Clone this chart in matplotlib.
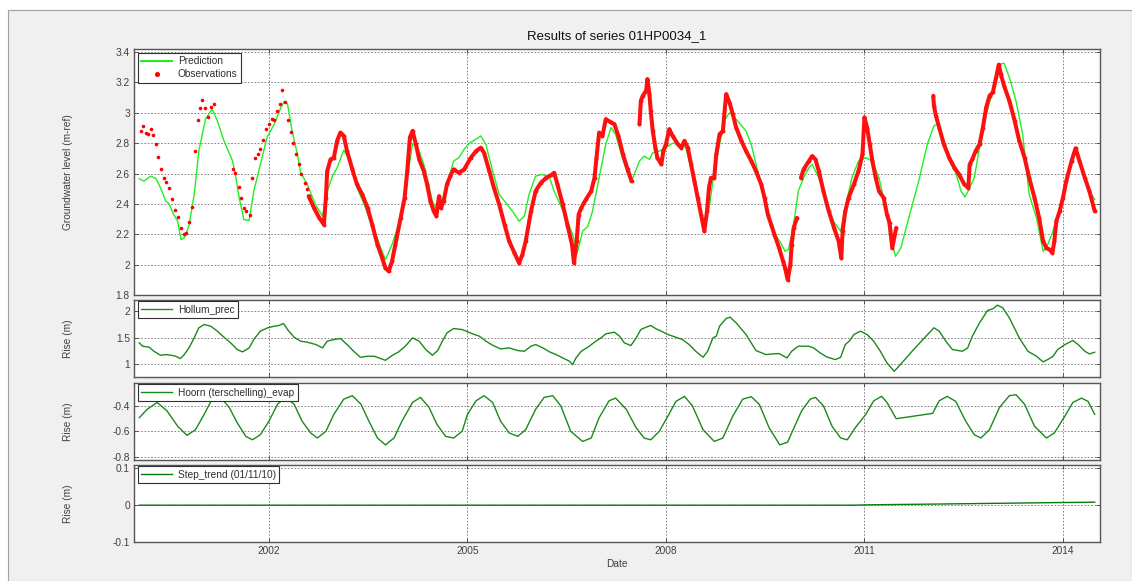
import numpy as np
import matplotlib
matplotlib.use("Agg")
import matplotlib.pyplot as plt
from matplotlib.patches import Rectangle
from matplotlib.lines import Line2D

plt.rcParams['font.family'] = ['Liberation Sans', 'DejaVu Sans']

# prediction (decimal year, m-ref)
pred_year = [2000.04, 2000.11, 2000.21, 2000.29, 2000.36, 2000.44, 2000.49, 2000.56, 2000.62, 2000.67,
             2000.72, 2000.79, 2000.87, 2000.94, 2001.04, 2001.14, 2001.22, 2001.32, 2001.45, 2001.50,
             2001.55, 2001.62, 2001.70, 2001.77, 2001.87, 2001.97, 2002.08, 2002.18, 2002.23, 2002.28,
             2002.35, 2002.43, 2002.48, 2002.58, 2002.70, 2002.81, 2002.88, 2002.96, 2003.03, 2003.13,
             2003.23, 2003.33, 2003.44, 2003.51, 2003.61, 2003.76, 2003.86, 2003.99, 2004.09, 2004.17,
             2004.24, 2004.34, 2004.47, 2004.52, 2004.62, 2004.72, 2004.79, 2004.87, 2004.95, 2005.03,
             2005.13, 2005.20, 2005.28, 2005.38, 2005.48, 2005.58, 2005.68, 2005.78, 2005.86, 2005.93,
             2006.03, 2006.13, 2006.24, 2006.31, 2006.39, 2006.49, 2006.59, 2006.66, 2006.74, 2006.82,
             2006.89, 2006.99, 2007.09, 2007.17, 2007.24, 2007.34, 2007.47, 2007.60, 2007.67, 2007.75,
             2007.80, 2007.90, 2008.00, 2008.10, 2008.20, 2008.30, 2008.40, 2008.50, 2008.58, 2008.66,
             2008.73, 2008.81, 2008.88, 2008.96, 2009.06, 2009.21, 2009.29, 2009.41, 2009.51, 2009.61,
             2009.72, 2009.80, 2009.85, 2009.93, 2010.00, 2010.08, 2010.16, 2010.21, 2010.31, 2010.41,
             2010.53, 2010.64, 2010.71, 2010.81, 2010.91, 2011.02, 2011.12, 2011.22, 2011.32, 2011.39,
             2011.47, 2011.55, 2011.67, 2011.82, 2011.95, 2012.05, 2012.10, 2012.20, 2012.31, 2012.38,
             2012.46, 2012.52, 2012.58, 2012.66, 2012.73, 2012.84, 2012.94, 2013.04, 2013.11, 2013.19,
             2013.29, 2013.39, 2013.49, 2013.60, 2013.70, 2013.77, 2013.85, 2013.95, 2014.05, 2014.15,
             2014.23, 2014.30, 2014.40, 2014.48]
pred_level = [2.566, 2.55, 2.583, 2.568, 2.506, 2.418, 2.40, 2.33, 2.286, 2.165,
              2.176, 2.253, 2.462, 2.748, 2.958, 3.024, 2.947, 2.815, 2.682, 2.572,
              2.44, 2.297, 2.29, 2.484, 2.66, 2.837, 2.925, 3.035, 3.074, 3.057,
              2.88, 2.726, 2.605, 2.528, 2.396, 2.319, 2.484, 2.583, 2.638, 2.753,
              2.682, 2.506, 2.396, 2.308, 2.198, 2.033, 2.132, 2.308, 2.572, 2.793,
              2.782, 2.66, 2.418, 2.374, 2.418, 2.572, 2.682, 2.704, 2.76, 2.80,
              2.826, 2.848, 2.79, 2.616, 2.462, 2.407, 2.352, 2.286, 2.319, 2.462,
              2.583, 2.594, 2.572, 2.484, 2.407, 2.308, 2.198, 2.077, 2.22, 2.253,
              2.352, 2.572, 2.792, 2.903, 2.858, 2.704, 2.539, 2.682, 2.715, 2.693,
              2.737, 2.748, 2.77, 2.80, 2.79, 2.77, 2.594, 2.396, 2.22, 2.396,
              2.616, 2.79, 2.947, 3.0, 2.958, 2.88, 2.79, 2.572, 2.374, 2.22,
              2.154, 2.088, 2.099, 2.264, 2.484, 2.572, 2.638, 2.66, 2.572, 2.44,
              2.286, 2.22, 2.374, 2.572, 2.682, 2.704, 2.682, 2.572, 2.374, 2.176,
              2.055, 2.11, 2.308, 2.55, 2.792, 2.914, 2.925, 2.815, 2.66, 2.605,
              2.484, 2.445, 2.495, 2.572, 2.748, 2.99, 3.145, 3.32, 3.326, 3.233,
              3.079, 2.86, 2.462, 2.308, 2.088, 2.132, 2.22, 2.374, 2.528, 2.726,
              2.737, 2.616, 2.484, 2.429]

# early manual observations
obs_sparse_year = [2000.06, 2000.09, 2000.14, 2000.17, 2000.21, 2000.24, 2000.29, 2000.32, 2000.37, 2000.41,
                   2000.45, 2000.49, 2000.54, 2000.58, 2000.62, 2000.67, 2000.71, 2000.74, 2000.79, 2000.83,
                   2000.88, 2000.92, 2000.96, 2000.99, 2001.04, 2001.08, 2001.13, 2001.17,
                   2001.46, 2001.49, 2001.54, 2001.57, 2001.62, 2001.66, 2001.71, 2001.75, 2001.79, 2001.83,
                   2001.87, 2001.91, 2001.96, 2002.00, 2002.04, 2002.08, 2002.12, 2002.16, 2002.20, 2002.24,
                   2002.29, 2002.33, 2002.37, 2002.41, 2002.45, 2002.49, 2002.54, 2002.57]
obs_sparse_level = [2.881, 2.914, 2.870, 2.863, 2.892, 2.852, 2.793, 2.711, 2.632, 2.572,
                    2.544, 2.502, 2.433, 2.363, 2.312, 2.242, 2.202, 2.209, 2.281, 2.381,
                    2.748, 2.951, 3.030, 3.083, 3.030, 2.973, 3.041, 3.061,
                    2.632, 2.601, 2.511, 2.440, 2.370, 2.352, 2.330, 2.568, 2.700, 2.731,
                    2.759, 2.821, 2.892, 2.929, 2.958, 2.951, 3.013, 3.061, 3.152, 3.072,
                    2.951, 2.876, 2.799, 2.731, 2.665, 2.594, 2.539, 2.498]

# logger observations (NaN = gap)
obs_year = [2002.60, 2002.68, 2002.76, 2002.83, 2002.86, 2002.88, 2002.93, 2002.98, 2003.03, 2003.08,
            2003.13, 2003.18, 2003.26, 2003.33, 2003.41, 2003.49, 2003.56, 2003.64, 2003.71, 2003.76,
            2003.81, 2003.86, 2003.91, 2003.99, 2004.05, 2004.09, 2004.13, 2004.17, 2004.22, 2004.27,
            2004.34, 2004.39, 2004.44, 2004.49, 2004.53, 2004.57, 2004.60, 2004.64, 2004.69, 2004.74,
            2004.79, 2004.87, 2004.95, 2005.05, 2005.13, 2005.20, 2005.25, 2005.33, 2005.40, 2005.48,
            2005.56, 2005.63, 2005.71, 2005.78, 2005.83, 2005.88, 2005.96, 2006.03, 2006.11, 2006.19,
            2006.26, 2006.31, 2006.36, 2006.44, 2006.51, 2006.58, 2006.61, 2006.65, 2006.68, 2006.72,
            2006.79, 2006.87, 2006.92, 2006.95, 2006.99, 2007.04, 2007.09, 2007.17, 2007.22, 2007.28,
            2007.35, 2007.42, 2007.48, np.nan,
            2007.60, 2007.62, 2007.65, 2007.70, 2007.72, 2007.75, 2007.77, 2007.80, 2007.84, 2007.87,
            2007.93, 2007.96, 2008.00, 2008.05, 2008.10, 2008.18, 2008.23, 2008.28, 2008.33, 2008.38,
            2008.43, 2008.48, 2008.53, 2008.58, 2008.62, 2008.65, 2008.68, 2008.73, 2008.76, 2008.81,
            2008.86, 2008.91, 2008.96, 2009.01, 2009.06, 2009.14, 2009.21, 2009.29, 2009.36, 2009.44,
            2009.49, 2009.54, 2009.59, 2009.64, 2009.71, 2009.77, 2009.80, 2009.84, 2009.88, 2009.90,
            2009.93, 2009.98, np.nan, 2010.04, 2010.08, 2010.16, 2010.21, 2010.26, 2010.31, 2010.38,
            2010.46, 2010.54, 2010.61, 2010.65, 2010.67, 2010.71, 2010.76, 2010.84, 2010.91, 2010.97,
            2011.00, 2011.04, 2011.08, 2011.12, 2011.17, 2011.22, 2011.29, 2011.34, 2011.38, 2011.42,
            2011.48, np.nan,
            2012.04, 2012.05, 2012.08, 2012.13, 2012.20, 2012.28, 2012.36, 2012.43, 2012.51, 2012.57,
            2012.59, 2012.63, 2012.68, 2012.74, 2012.79, 2012.84, 2012.89, 2012.94, 2012.99, 2013.03,
            2013.06, 2013.11, 2013.19, 2013.27, 2013.34, 2013.42, 2013.49, 2013.57, 2013.64, 2013.70,
            2013.75, 2013.80, 2013.84, 2013.87, 2013.90, 2013.95, 2014.00, 2014.05, 2014.13, 2014.19,
            2014.25, 2014.33, 2014.40, 2014.48]
obs_level = [2.451, 2.374, 2.308, 2.264, 2.440, 2.616, 2.693, 2.704, 2.815, 2.870,
             2.848, 2.748, 2.627, 2.528, 2.462, 2.374, 2.264, 2.132, 2.044, 1.978,
             1.956, 2.022, 2.132, 2.308, 2.440, 2.616, 2.837, 2.881, 2.793, 2.693,
             2.616, 2.528, 2.418, 2.352, 2.319, 2.451, 2.374, 2.418, 2.528, 2.583,
             2.627, 2.605, 2.627, 2.704, 2.748, 2.770, 2.737, 2.616, 2.506, 2.396,
             2.264, 2.154, 2.077, 2.011, 2.066, 2.154, 2.352, 2.484, 2.539, 2.572,
             2.588, 2.605, 2.528, 2.396, 2.264, 2.132, 2.011, 2.154, 2.330, 2.374,
             2.429, 2.484, 2.572, 2.704, 2.870, 2.848, 2.958, 2.936, 2.925, 2.848,
             2.726, 2.627, 2.550, np.nan,
             2.925, 3.079, 3.112, 3.145, 3.222, 3.123, 3.013, 2.881, 2.770, 2.704,
             2.660, 2.748, 2.793, 2.892, 2.848, 2.793, 2.770, 2.815, 2.770, 2.660,
             2.550, 2.440, 2.330, 2.220, 2.352, 2.506, 2.572, 2.572, 2.726, 2.859,
             2.881, 3.123, 3.068, 2.991, 2.903, 2.815, 2.748, 2.682, 2.616, 2.528,
             2.440, 2.330, 2.264, 2.198, 2.110, 2.022, 1.978, 1.900, 1.999, 2.132,
             2.242, 2.308, np.nan, 2.572, 2.627, 2.682, 2.715, 2.693, 2.616, 2.484,
             2.352, 2.242, 2.154, 2.044, 2.220, 2.352, 2.440, 2.528, 2.616, 2.726,
             2.969, 2.903, 2.793, 2.682, 2.572, 2.484, 2.440, 2.330, 2.275, 2.110,
             2.242, np.nan,
             3.112, 3.046, 2.980, 2.903, 2.793, 2.704, 2.638, 2.594, 2.528, 2.506,
             2.660, 2.693, 2.748, 2.793, 2.903, 3.035, 3.112, 3.134, 3.233, 3.317,
             3.255, 3.178, 3.079, 2.947, 2.815, 2.704, 2.572, 2.440, 2.308, 2.154,
             2.110, 2.099, 2.077, 2.154, 2.286, 2.352, 2.440, 2.550, 2.682, 2.766,
             2.682, 2.572, 2.484, 2.352]

# Hollum_prec contribution
prec_year = [2000.04, 2000.09, 2000.19, 2000.26, 2000.36, 2000.44, 2000.52, 2000.59, 2000.66, 2000.72,
             2000.79, 2000.87, 2000.94, 2001.02, 2001.12, 2001.22, 2001.32, 2001.42, 2001.52, 2001.60,
             2001.70, 2001.77, 2001.87, 2001.98, 2002.08, 2002.15, 2002.22, 2002.28, 2002.38, 2002.48,
             2002.58, 2002.71, 2002.81, 2002.88, 2002.98, 2003.08, 2003.18, 2003.28, 2003.38, 2003.49,
             2003.59, 2003.69, 2003.76, 2003.86, 2003.96, 2004.06, 2004.17, 2004.27, 2004.37, 2004.47,
             2004.55, 2004.62, 2004.69, 2004.79, 2004.92, 2004.98, 2005.08, 2005.18, 2005.28, 2005.38,
             2005.50, 2005.63, 2005.76, 2005.86, 2005.96, 2006.03, 2006.14, 2006.24, 2006.34, 2006.44,
             2006.54, 2006.59, 2006.64, 2006.72, 2006.82, 2006.94, 2007.02, 2007.09, 2007.22, 2007.30,
             2007.37, 2007.47, 2007.55, 2007.62, 2007.70, 2007.77, 2007.85, 2007.93, 2008.03, 2008.15,
             2008.25, 2008.35, 2008.45, 2008.56, 2008.63, 2008.71, 2008.76, 2008.81, 2008.91, 2008.97,
             2009.06, 2009.21, 2009.36, 2009.51, 2009.61, 2009.71, 2009.83, 2009.90, 2010.00, 2010.16,
             2010.23, 2010.33, 2010.43, 2010.56, 2010.64, 2010.71, 2010.77, 2010.84, 2010.94, 2011.04,
             2011.14, 2011.24, 2011.34, 2011.45, 2011.52, 2011.72, 2011.93, 2012.05, 2012.13, 2012.23,
             2012.33, 2012.48, 2012.56, 2012.63, 2012.74, 2012.86, 2012.94, 2013.01, 2013.09, 2013.19,
             2013.34, 2013.47, 2013.60, 2013.70, 2013.77, 2013.85, 2013.92, 2014.03, 2014.15, 2014.23,
             2014.33, 2014.40, 2014.48]
prec_rise = [1.403, 1.340, 1.321, 1.245, 1.170, 1.182, 1.170, 1.151, 1.107, 1.182,
             1.308, 1.497, 1.686, 1.748, 1.717, 1.623, 1.509, 1.403, 1.277, 1.233,
             1.308, 1.465, 1.623, 1.686, 1.717, 1.730, 1.767, 1.654, 1.509, 1.434,
             1.415, 1.371, 1.308, 1.434, 1.465, 1.484, 1.371, 1.245, 1.132, 1.151,
             1.151, 1.107, 1.075, 1.164, 1.233, 1.340, 1.497, 1.434, 1.277, 1.170,
             1.258, 1.434, 1.591, 1.673, 1.654, 1.623, 1.572, 1.528, 1.434, 1.358,
             1.289, 1.308, 1.258, 1.245, 1.340, 1.371, 1.308, 1.233, 1.182, 1.119,
             1.057, 0.994, 1.119, 1.245, 1.321, 1.434, 1.497, 1.572, 1.604, 1.528,
             1.403, 1.352, 1.497, 1.654, 1.698, 1.730, 1.667, 1.623, 1.560, 1.509,
             1.465, 1.371, 1.245, 1.132, 1.245, 1.497, 1.528, 1.717, 1.862, 1.887,
             1.780, 1.560, 1.258, 1.182, 1.195, 1.201, 1.119, 1.245, 1.340, 1.340,
             1.308, 1.214, 1.138, 1.088, 1.132, 1.371, 1.434, 1.560, 1.623, 1.560,
             1.434, 1.245, 1.025, 0.868, 0.962, 1.245, 1.528, 1.686, 1.623, 1.434,
             1.277, 1.245, 1.308, 1.528, 1.780, 2.013, 2.044, 2.113, 2.063, 1.874,
             1.497, 1.245, 1.151, 1.044, 1.088, 1.151, 1.277, 1.371, 1.447, 1.371,
             1.245, 1.195, 1.226]

# Hoorn (terschelling)_evap contribution
evap_year = [2000.04, 2000.16, 2000.31, 2000.46, 2000.62, 2000.76, 2000.89, 2001.02, 2001.14, 2001.27,
             2001.40, 2001.52, 2001.65, 2001.75, 2001.87, 2002.00, 2002.13, 2002.25, 2002.38, 2002.50,
             2002.63, 2002.73, 2002.86, 2002.98, 2003.13, 2003.26, 2003.39, 2003.51, 2003.64, 2003.76,
             2003.89, 2004.01, 2004.17, 2004.29, 2004.42, 2004.54, 2004.67, 2004.79, 2004.92, 2005.00,
             2005.13, 2005.25, 2005.38, 2005.50, 2005.63, 2005.76, 2005.88, 2006.03, 2006.16, 2006.29,
             2006.41, 2006.56, 2006.74, 2006.87, 2006.99, 2007.14, 2007.24, 2007.40, 2007.55, 2007.67,
             2007.77, 2007.90, 2008.03, 2008.15, 2008.28, 2008.40, 2008.56, 2008.73, 2008.86, 2009.01,
             2009.16, 2009.29, 2009.41, 2009.56, 2009.72, 2009.84, 2009.90, 2010.05, 2010.18, 2010.26,
             2010.38, 2010.51, 2010.64, 2010.74, 2010.86, 2011.02, 2011.14, 2011.26, 2011.34, 2011.48,
             2012.03, 2012.13, 2012.25, 2012.38, 2012.53, 2012.66, 2012.76, 2012.89, 2013.04, 2013.19,
             2013.29, 2013.42, 2013.57, 2013.75, 2013.87, 2014.03, 2014.15, 2014.28, 2014.38, 2014.48]
evap_rise = [-0.493, -0.427, -0.373, -0.440, -0.560, -0.632, -0.587, -0.467, -0.347, -0.333,
             -0.413, -0.533, -0.640, -0.667, -0.627, -0.520, -0.387, -0.333, -0.387, -0.520,
             -0.613, -0.653, -0.600, -0.467, -0.347, -0.320, -0.387, -0.520, -0.653, -0.707,
             -0.653, -0.520, -0.373, -0.333, -0.413, -0.547, -0.640, -0.653, -0.600, -0.467,
             -0.360, -0.320, -0.373, -0.520, -0.613, -0.640, -0.587, -0.427, -0.333, -0.320,
             -0.400, -0.600, -0.680, -0.653, -0.493, -0.360, -0.339, -0.427, -0.573, -0.653,
             -0.667, -0.600, -0.480, -0.365, -0.325, -0.400, -0.587, -0.680, -0.653, -0.480,
             -0.347, -0.328, -0.387, -0.573, -0.707, -0.685, -0.613, -0.440, -0.347, -0.333,
             -0.400, -0.560, -0.653, -0.667, -0.573, -0.467, -0.360, -0.325, -0.373, -0.501,
             -0.459, -0.360, -0.325, -0.365, -0.520, -0.627, -0.653, -0.587, -0.413, -0.320,
             -0.312, -0.387, -0.560, -0.653, -0.613, -0.480, -0.373, -0.339, -0.365, -0.467]

# Step_trend (01/11/10)
step_year = [2000.04, 2010.83, 2011.10, 2012.10, 2013.00, 2013.90, 2014.48]
step_rise = [0.0, 0.0, 0.001, 0.003, 0.005, 0.007, 0.008]

year_ticks = [2002, 2005, 2008, 2011, 2014]

W, H = 1132, 581
fig = plt.figure(figsize=(W / 100, H / 100), dpi=100)
fig.patch.set_facecolor('white')
fig.patches.append(Rectangle((8 / W, 0), 1 - 8 / W, 1 - 10 / H, transform=fig.transFigure,
                             facecolor='#f0f0f0', edgecolor='#a0a0a0', linewidth=0.8, zorder=-10))

left = 134 / W
width = (1100 - 134) / W


def make_ax(top, bottom):
    return fig.add_axes([left, 1 - bottom / H, width, (bottom - top) / H])


def style(ax, yticks, ylabels, ylim):
    ax.set_xlim(1999.96, 2014.56)
    ax.set_ylim(*ylim)
    ax.set_xticks(year_ticks)
    ax.set_yticks(yticks)
    ax.set_yticklabels(ylabels)
    ax.grid(True, linestyle=(0, (2, 2)), color='#707070', linewidth=0.6)
    ax.tick_params(direction='in', top=True, right=True, labelsize=7.3, colors='#404040',
                   length=3, width=0.6, pad=3)
    for s in ax.spines.values():
        s.set_color('#555555')
        s.set_linewidth(1.0)
    ax.set_facecolor('white')


def legend(ax, handles, labels):
    lg = ax.legend(handles, labels, loc='upper left', bbox_to_anchor=(0.004, 0.985),
                   fontsize=7.3, frameon=True, fancybox=False, framealpha=1, edgecolor='#303030',
                   handlelength=3.0, handletextpad=0.6, borderpad=0.35, labelspacing=0.3,
                   borderaxespad=0)
    lg.get_frame().set_linewidth(0.8)
    for t in lg.get_texts():
        t.set_color('#303030')


# main panel
ax1 = make_ax(49, 295)
ax1.plot(pred_year, pred_level, color='#22ee22', linewidth=1.0, zorder=2)
ax1.plot(obs_sparse_year, obs_sparse_level, linestyle='none', marker='o', markersize=2.6,
         color='#ff0000', markeredgewidth=0, zorder=3)
ax1.plot(obs_year, obs_level, color='#ff1010', linewidth=2.9, solid_capstyle='round',
         marker='o', markersize=2.8, markeredgewidth=0, zorder=3)
style(ax1, [1.8, 2, 2.2, 2.4, 2.6, 2.8, 3, 3.2, 3.4],
      ['1.8', '2', '2.2', '2.4', '2.6', '2.8', '3', '3.2', '3.4'], (1.8, 3.42))
ax1.set_xticklabels([])
ax1.set_ylabel('Groundwater level (m-ref)', fontsize=7.3, color='#404040')
ax1.yaxis.set_label_coords(-0.063, 0.5)
ax1.set_title('Results of series 01HP0034_1', fontsize=9.5, pad=7, color='#101010')
legend(ax1, [Line2D([], [], color='#22ee22', linewidth=1.5),
             Line2D([], [], linestyle='none', marker='o', markersize=2.6, color='#ff0000')],
       ['Prediction', 'Observations'])

# precipitation
ax2 = make_ax(300, 377)
ax2.plot(prec_year, prec_rise, color='#1a8a1a', linewidth=1.0)
style(ax2, [1, 1.5, 2], ['1', '1.5', '2'], (0.76, 2.21))
ax2.set_xticklabels([])
ax2.set_ylabel('Rise (m)', fontsize=7.3, color='#404040')
ax2.yaxis.set_label_coords(-0.063, 0.5)
legend(ax2, [Line2D([], [], color='#1a8a1a', linewidth=1.0)], ['Hollum_prec'])

# evaporation
ax3 = make_ax(383, 460)
ax3.plot(evap_year, evap_rise, color='#1a8a1a', linewidth=1.0)
style(ax3, [-0.8, -0.6, -0.4], ['-0.8', '-0.6', '-0.4'], (-0.826, -0.22))
ax3.set_xticklabels([])
ax3.set_ylabel('Rise (m)', fontsize=7.3, color='#404040')
ax3.yaxis.set_label_coords(-0.063, 0.5)
legend(ax3, [Line2D([], [], color='#1a8a1a', linewidth=1.0)], ['Hoorn (terschelling)_evap'])

# step trend
ax4 = make_ax(465, 542)
ax4.plot(step_year, step_rise, color='#0a7a0a', linewidth=1.0)
style(ax4, [-0.1, 0, 0.1], ['-0.1', '0', '0.1'], (-0.1, 0.109))
ax4.set_xticklabels([str(y) for y in year_ticks])
ax4.set_xlabel('Date', fontsize=7.3, color='#404040', labelpad=2)
ax4.set_ylabel('Rise (m)', fontsize=7.3, color='#404040')
ax4.yaxis.set_label_coords(-0.063, 0.5)
legend(ax4, [Line2D([], [], color='#0a7a0a', linewidth=1.0)], ['Step_trend (01/11/10)'])

fig.savefig('out.png', dpi=100, facecolor=fig.get_facecolor())
